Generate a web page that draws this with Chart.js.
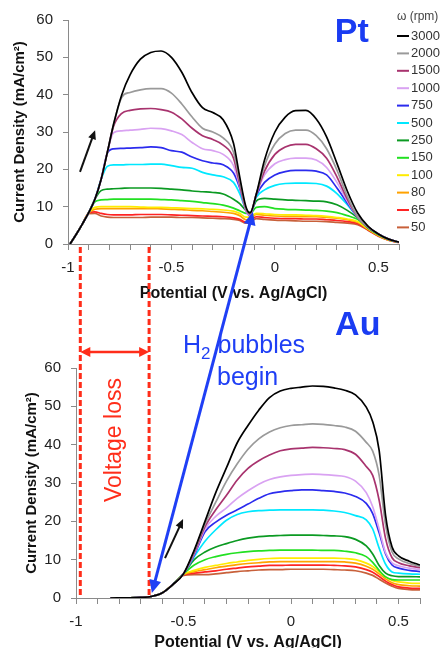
<!DOCTYPE html>
<html>
<head>
<meta charset="utf-8">
<script src="https://cdn.jsdelivr.net/npm/chart.js@4.4.1/dist/chart.umd.min.js"></script>
<style>
  html, body { margin: 0; padding: 0; background: #fff; overflow: hidden; }
  #wrap { position: relative; width: 443px; height: 648px; }
  canvas { position: absolute; left: 0; }
  #ptChart { top: 0; }
  #auChart { top: 330px; }
  #overlay { top: 0; pointer-events: none; }
</style>
</head>
<body>
<div id="wrap">
  <canvas id="ptChart" width="443" height="303"></canvas>
  <canvas id="auChart" width="443" height="322"></canvas>
  <canvas id="overlay" width="443" height="648"></canvas>
</div>
<script>
// rotation rates (legend) and line colours
const rpm = ['3000', '2000', '1500', '1000', '750', '500', '250', '150', '100', '80', '65', '50'];
const colors = ['#000000', '#9a9a9a', '#a8336e', '#d9a2f2', '#2b2bee', '#00e8ff',
                '#0b9a22', '#22e022', '#ffec00', '#ffa200', '#ff2424', '#c8603a'];

// Pt electrode: potential (V vs Ag/AgCl)
const xsPt = [-0.99, -0.96, -0.93, -0.9, -0.87, -0.84, -0.81, -0.78, -0.74, -0.7, -0.65, -0.6, -0.55, -0.5,
              -0.45, -0.4, -0.35, -0.3, -0.25, -0.2, -0.17, -0.14, -0.12, -0.09, -0.05, 0, 0.05, 0.1,
              0.15, 0.2, 0.25, 0.3, 0.35, 0.4, 0.45, 0.5, 0.55, 0.6];
const pt3000 = [0, 2.6, 5.4, 8.4, 12, 17.3, 24.5, 32, 40, 45.3, 49.5, 51.3, 51.7, 50, 46, 40.5, 36.5, 35.2, 33.3, 27, 18, 10, 8.3, 13.3, 22.5, 30, 34, 35.7, 35.8, 33.5, 28.7, 21.6, 14.2, 8.3, 4.8, 2.7, 1.3, 0.5];
const pt2000 = [0, 2.6, 5.4, 8.4, 12, 17.3, 24.5, 32, 39.3, 40.6, 41.3, 41.6, 41.6, 40.4, 37.5, 34, 31, 30, 28.4, 24.6, 17, 9.5, 8.2, 13.3, 21, 26.8, 29.6, 30.5, 30.5, 29, 25.5, 19.8, 12.8, 7.3, 4.6, 2.7, 1.3, 0.5];
const pt1500 = [0, 2.6, 5.4, 8.4, 12, 17.3, 24.5, 31.5, 35, 35.8, 36.2, 36.3, 36, 35.3, 33.5, 31, 29, 28, 26.5, 23, 16, 9.3, 8, 13.3, 19.5, 24, 26, 26.7, 26.7, 25.5, 23, 18, 12, 7.2, 4.5, 2.7, 1.3, 0.5];
const pt1000 = [0, 2.6, 5.4, 8.4, 12, 17.3, 24.5, 29.8, 30.3, 30.5, 30.7, 31, 30.9, 30.3, 29.3, 27.2, 25.5, 25, 24, 21, 15.5, 9, 7.8, 13.2, 18.5, 21.5, 22.6, 23, 23, 22.5, 20.5, 16.5, 11.5, 7.2, 4.5, 2.7, 1.3, 0.5];
const pt750 = [0, 2.6, 5.4, 8.4, 12, 17.3, 24.3, 25.5, 25.6, 25.7, 25.8, 26, 25.8, 25, 24.6, 23.3, 22.3, 21.7, 21.2, 19, 15, 9, 7.6, 13, 16.5, 18.5, 19.4, 19.7, 19.7, 19.5, 18.5, 15, 11, 7.2, 4.5, 2.7, 1.3, 0.5];
const pt500 = [0, 2.6, 5.4, 8.4, 12, 17.3, 20.8, 21.2, 21.2, 21.3, 21.3, 21.4, 21.4, 21, 20.5, 20.3, 19.2, 18.5, 18, 16.5, 13.5, 9.3, 7.9, 12.5, 14.5, 15.7, 16.2, 16.3, 16.3, 16.2, 15.5, 13.5, 10.5, 7.2, 4.5, 2.7, 1.3, 0.5];
const pt250 = [0, 2.6, 5.4, 8.4, 12, 14.3, 14.7, 14.8, 14.9, 15, 15, 15, 14.9, 14.7, 14.5, 14.2, 14, 13.8, 13.4, 12, 10.8, 9, 8.5, 11.5, 12.2, 12, 11.8, 11.7, 11.6, 11.5, 11.3, 10.5, 9, 7, 4.4, 2.6, 1.2, 0.5];
const pt150 = [0, 2.6, 5.4, 8.4, 11.3, 11.8, 11.9, 12, 12, 12, 12, 12, 11.9, 11.8, 11.6, 11.4, 11.1, 10.8, 10.4, 9.6, 8.9, 8.2, 8.2, 9.8, 10, 9.5, 9.3, 9.2, 9.1, 9, 8.8, 8.4, 7.6, 6.6, 4.3, 2.5, 1.2, 0.5];
const pt100 = [0, 2.6, 5.4, 8.4, 9.8, 10, 10, 10, 10, 10, 9.9, 9.8, 9.8, 9.7, 9.6, 9.5, 9.4, 9.3, 9.1, 8.8, 8.2, 7.2, 7.2, 8.2, 8.1, 7.9, 7.8, 7.8, 7.7, 7.6, 7.4, 7.1, 6.7, 6, 4.1, 2.4, 1.1, 0.5];
const pt80 = [0, 2.6, 5.4, 8.4, 9.3, 9.5, 9.5, 9.5, 9.5, 9.5, 9.5, 9.5, 9.4, 9.3, 9.2, 9, 8.9, 8.7, 8.5, 8.2, 7.6, 6.5, 6.7, 7.9, 7.7, 7.5, 7.4, 7.4, 7.3, 7.3, 7.1, 6.9, 6.5, 5.8, 4, 2.3, 1.1, 0.5];
const pt65 = [0, 2.6, 5.4, 8.3, 8.6, 8.2, 7.9, 7.8, 7.8, 7.8, 7.9, 7.9, 7.9, 7.8, 7.7, 7.6, 7.5, 7.4, 7.3, 7, 6.6, 5.8, 6.2, 7.3, 7.1, 6.9, 6.8, 6.8, 6.7, 6.7, 6.5, 6.3, 6, 5.5, 3.8, 2.2, 1, 0.4];
const pt50 = [0, 2.6, 5.4, 8.1, 8.2, 7.5, 7.2, 7.1, 7.1, 7.1, 7.1, 7.2, 7.2, 7.2, 7.1, 7.1, 7, 6.9, 6.8, 6.6, 6.3, 5.6, 5.9, 6.8, 6.6, 6.4, 6.3, 6.2, 6.1, 6.1, 6, 5.8, 5.6, 5.2, 3.7, 2.1, 1, 0.4];

// Au electrode
const xsAu = [-0.84, -0.75, -0.7, -0.65, -0.6, -0.55, -0.5, -0.45, -0.4, -0.35, -0.3, -0.25, -0.2, -0.15, -0.1,
              -0.05, 0, 0.05, 0.1, 0.15, 0.2, 0.25, 0.3, 0.35, 0.38, 0.41, 0.44, 0.47, 0.5, 0.55, 0.6];
const au3000 = [0, 0.05, 0.15, 0.4, 1.3, 3.5, 6.3, 12.5, 20, 27.5, 34, 40.5, 45, 49, 52.3, 54, 54.7, 55, 55.3, 55.2, 54.8, 54.2, 53, 49.8, 46, 38.5, 21.5, 13.3, 11, 9.6, 8.6];
const au2000 = [0, 0.05, 0.15, 0.4, 1.3, 3.5, 6.3, 12.2, 19.3, 25, 30.5, 35, 38.8, 41.5, 43.3, 44.4, 45, 45.2, 45.4, 45.3, 45, 44.6, 43.5, 40.6, 38.3, 32, 19, 12, 10.2, 9, 8.3];
const au1500 = [0, 0.05, 0.15, 0.4, 1.3, 3.5, 6.3, 11.8, 18.6, 23, 26.8, 30.8, 33.8, 35.8, 37.3, 38.4, 38.9, 39.1, 39.3, 39.2, 39, 38.7, 37.5, 34.3, 32, 25.5, 15.5, 10.5, 9.2, 8.4, 7.9];
const au1000 = [0, 0.05, 0.15, 0.4, 1.3, 3.5, 6.3, 11.5, 18, 21.3, 23.5, 26, 28, 29.7, 30.9, 31.6, 32, 32.2, 32.3, 32.2, 32, 31.7, 30.5, 27.5, 23.8, 18, 11.8, 9.2, 8.4, 7.8, 7.4];
const au750 = [0, 0.05, 0.15, 0.4, 1.3, 3.5, 6.3, 11.2, 17.3, 19.8, 21.6, 23, 24.5, 26, 27.2, 27.7, 28, 28.2, 28.2, 28, 27.8, 27.4, 26.5, 24.7, 22, 17, 11.5, 8.6, 7.8, 7.2, 6.9];
const au500 = [0, 0.05, 0.15, 0.4, 1.3, 3.5, 6.3, 10.8, 14.8, 17.8, 20.3, 21.8, 22.5, 22.8, 22.9, 23, 23, 23, 23, 22.9, 22.7, 22.3, 21.5, 20.4, 18, 13, 8.8, 6.8, 6.5, 6.3, 6.2];
const au250 = [0, 0.05, 0.15, 0.4, 1.3, 3.5, 6.3, 10, 12, 13.3, 14.2, 15, 15.6, 16, 16.2, 16.3, 16.4, 16.4, 16.4, 16.3, 16.2, 16, 15.3, 13.6, 11.5, 8.5, 6.5, 5.8, 5.6, 5.6, 5.5];
const au150 = [0, 0.05, 0.15, 0.4, 1.3, 3.5, 6.3, 8.6, 10, 10.8, 11.4, 11.8, 12.1, 12.3, 12.4, 12.5, 12.5, 12.5, 12.5, 12.4, 12.4, 12.2, 11.8, 10.8, 9.3, 7.2, 5.5, 4.8, 4.7, 4.7, 4.7];
const au100 = [0, 0.05, 0.15, 0.4, 1.3, 3.5, 6.2, 7.2, 8, 8.5, 9, 9.4, 9.8, 10.1, 10.3, 10.4, 10.4, 10.4, 10.4, 10.4, 10.4, 10.3, 10, 9.1, 8.2, 6.9, 5.5, 4.6, 4.2, 3.9, 3.8];
const au80 = [0, 0.05, 0.15, 0.4, 1.3, 3.5, 6.1, 6.9, 7.4, 7.9, 8.3, 8.7, 9, 9.2, 9.4, 9.5, 9.5, 9.5, 9.5, 9.5, 9.5, 9.4, 9.1, 8.3, 7.5, 6.3, 5, 4, 3.5, 3.2, 3.1];
const au65 = [0, 0.05, 0.15, 0.4, 1.3, 3.5, 6, 6.5, 6.8, 7.1, 7.5, 7.8, 8.1, 8.3, 8.5, 8.5, 8.6, 8.6, 8.6, 8.6, 8.5, 8.4, 8.1, 7.4, 6.7, 5.6, 4.4, 3.5, 2.9, 2.6, 2.5];
const au50 = [0, 0.05, 0.15, 0.4, 1.3, 3.5, 5.9, 6.1, 6.1, 6.3, 6.6, 6.9, 7.1, 7.3, 7.4, 7.4, 7.5, 7.5, 7.5, 7.5, 7.4, 7.3, 7.1, 6.5, 5.9, 4.9, 3.9, 3.1, 2.5, 2.2, 2.1];

const ptSeries = [pt3000, pt2000, pt1500, pt1000, pt750, pt500, pt250, pt150, pt100, pt80, pt65, pt50];
const auSeries = [au3000, au2000, au1500, au1000, au750, au500, au250, au150, au100, au80, au65, au50];

// annotation anchors (data units of the panel they sit in)
const lossEdges = [-0.98, -0.66];          // Au panel x
const bubbleArrow = { au: [-0.647, 1.3], pt: [-0.106, 8.6] };
const ptSweepArrow = [[-0.942, 19.3], [-0.869, 30.5]];
const auSweepArrow = [[-0.586, 10.4], [-0.502, 20.6]];

const family = "'Liberation Sans', Arial, sans-serif";
const axisColor = '#8a8a8a';
Chart.defaults.font.family = family;

function makeChart(id, xs, series, o) {
    const datasets = series.map((ys, i) => ({
        label: rpm[i],
        data: xs.map((x, j) => ({ x: x, y: ys[j] })),
        borderColor: colors[i],
        borderWidth: 1.7,
        pointRadius: 0,
        fill: false,
        cubicInterpolationMode: 'monotone'
    }));

    return new Chart(document.getElementById(id), {
        type: 'line',
        data: { datasets },
        options: {
            responsive: false,
            animation: false,
            layout: { padding: { top: o.padTop, right: o.padRight, left: 0, bottom: 0 } },
            plugins: { legend: { display: false }, tooltip: { enabled: false } },
            scales: {
                x: {
                    type: 'linear', min: -1, max: 0.6,
                    border: { color: axisColor, width: 1 },
                    grid: { drawOnChartArea: false, drawTicks: true, tickLength: 6, color: axisColor },
                    ticks: {
                        stepSize: 0.1, autoSkip: false, maxRotation: 0, padding: 9,
                        color: '#222', font: { size: 15 },
                        callback: v => {
                            const t = Math.round(v * 10);
                            return (t % 5 === 0 && t <= 5) ? String(t / 10) : '';
                        }
                    },
                    title: {
                        display: true, text: 'Potential (V vs. Ag/AgCl)', color: '#111',
                        font: { size: 16, weight: 'bold' }, padding: { top: 0, bottom: 0 }
                    },
                    afterFit: s => { s.height = o.xAxisH; }
                },
                y: {
                    min: 0, max: 60,
                    border: { color: axisColor, width: 1 },
                    grid: { drawOnChartArea: false, drawTicks: true, tickLength: 5, color: axisColor },
                    ticks: { stepSize: 10, padding: 10, color: '#222', font: { size: 15 } },
                    title: {
                        display: true, text: 'Current Density (mA/cm²)', color: '#111',
                        font: { size: 15, weight: 'bold' }, padding: { top: o.yTitlePad, bottom: 0 }
                    },
                    afterFit: s => { s.width = o.yAxisW; }
                }
            }
        }
    });
}

const ptChart = makeChart('ptChart', xsPt, ptSeries, { padTop: 20, padRight: 44, xAxisH: 59, yAxisW: 68, yTitlePad: 11 });
const auChart = makeChart('auChart', xsAu, auSeries, { padTop: 38, padRight: 23, xAxisH: 54, yAxisW: 76, yTitlePad: 23 });

// ---- overlay annotations ----
const auTop = 330;
const ctx = document.getElementById('overlay').getContext('2d');

function ptPx(p) { return [ptChart.scales.x.getPixelForValue(p[0]), ptChart.scales.y.getPixelForValue(p[1])]; }
function auPx(p) { return [auChart.scales.x.getPixelForValue(p[0]), auChart.scales.y.getPixelForValue(p[1]) + auTop]; }

function head(x1, y1, x2, y2, len, wid) {
    const a = Math.atan2(y2 - y1, x2 - x1);
    ctx.beginPath();
    ctx.moveTo(x2, y2);
    ctx.lineTo(x2 - len * Math.cos(a) + wid * Math.sin(a), y2 - len * Math.sin(a) - wid * Math.cos(a));
    ctx.lineTo(x2 - len * Math.cos(a) - wid * Math.sin(a), y2 - len * Math.sin(a) + wid * Math.cos(a));
    ctx.closePath();
    ctx.fill();
}

function arrow(p1, p2, color, width, len, wid, both) {
    const a = Math.atan2(p2[1] - p1[1], p2[0] - p1[0]);
    const sx = both ? p1[0] + len * 0.8 * Math.cos(a) : p1[0];
    const sy = both ? p1[1] + len * 0.8 * Math.sin(a) : p1[1];
    ctx.strokeStyle = color;
    ctx.fillStyle = color;
    ctx.lineWidth = width;
    ctx.setLineDash([]);
    ctx.beginPath();
    ctx.moveTo(sx, sy);
    ctx.lineTo(p2[0] - len * 0.8 * Math.cos(a), p2[1] - len * 0.8 * Math.sin(a));
    ctx.stroke();
    head(p1[0], p1[1], p2[0], p2[1], len, wid);
    if (both) head(p2[0], p2[1], p1[0], p1[1], len, wid);
}

// legend
const legX = ptChart.chartArea.right - 2;
ctx.textBaseline = 'middle';
ctx.font = '12px ' + family;
ctx.fillStyle = '#444';
ctx.fillText('ω (rpm)', legX, 17);
ctx.font = '13px ' + family;
rpm.forEach((r, i) => {
    const y = 36 + i * 17.4;
    ctx.strokeStyle = colors[i];
    ctx.lineWidth = 2;
    ctx.beginPath();
    ctx.moveTo(legX, y);
    ctx.lineTo(legX + 12, y);
    ctx.stroke();
    ctx.fillStyle = '#333';
    ctx.fillText(r, legX + 14, y);
});

// panel labels
ctx.fillStyle = '#1a3cf2';
ctx.font = 'bold 34px ' + family;
ctx.textBaseline = 'alphabetic';
let p = ptPx([0.29, 54.1]);
ctx.fillText('Pt', p[0], p[1]);
p = auPx([0.205, 68.6]);
ctx.fillText('Au', p[0], p[1]);

// voltage loss
const red = '#ff2d1a';
const yTopDash = ptChart.chartArea.bottom + 3;
const yBotDash = auChart.scales.y.getPixelForValue(0) + auTop;
ctx.strokeStyle = red;
ctx.lineWidth = 3;
ctx.setLineDash([6, 3]);
lossEdges.forEach(v => {
    const x = auChart.scales.x.getPixelForValue(v);
    ctx.beginPath();
    ctx.moveTo(x, yTopDash);
    ctx.lineTo(x, yBotDash);
    ctx.stroke();
});
ctx.setLineDash([]);
arrow(auPx([lossEdges[0], 64.2]), auPx([lossEdges[1], 64.2]), red, 2.5, 10, 5, true);

ctx.save();
p = auPx([(lossEdges[0] + lossEdges[1]) / 2, 41.2]);
ctx.translate(p[0], p[1]);
ctx.rotate(-Math.PI / 2);
ctx.fillStyle = red;
ctx.font = '23px ' + family;
ctx.textAlign = 'center';
ctx.textBaseline = 'middle';
ctx.fillText('Voltage loss', 0, 0);
ctx.restore();

// H2 bubbles
const blue = '#1f3ff5';
arrow(auPx(bubbleArrow.au), ptPx(bubbleArrow.pt), blue, 3, 13, 6, true);
ctx.fillStyle = blue;
ctx.textBaseline = 'alphabetic';
ctx.textAlign = 'left';
p = auPx([-0.502, 63.9]);
ctx.font = '25px ' + family;
ctx.fillText('H', p[0], p[1]);
let w = ctx.measureText('H').width;
ctx.font = '17px ' + family;
ctx.fillText('2', p[0] + w, p[1] + 6);
w += ctx.measureText('2').width;
ctx.font = '25px ' + family;
ctx.fillText(' bubbles', p[0] + w, p[1]);
p = auPx([-0.344, 55.6]);
ctx.fillText('begin', p[0], p[1]);

// sweep direction arrows
arrow(ptPx(ptSweepArrow[0]), ptPx(ptSweepArrow[1]), '#111', 2, 9, 4, false);
arrow(auPx(auSweepArrow[0]), auPx(auSweepArrow[1]), '#111', 2, 9, 4, false);
</script>
</body>
</html>
